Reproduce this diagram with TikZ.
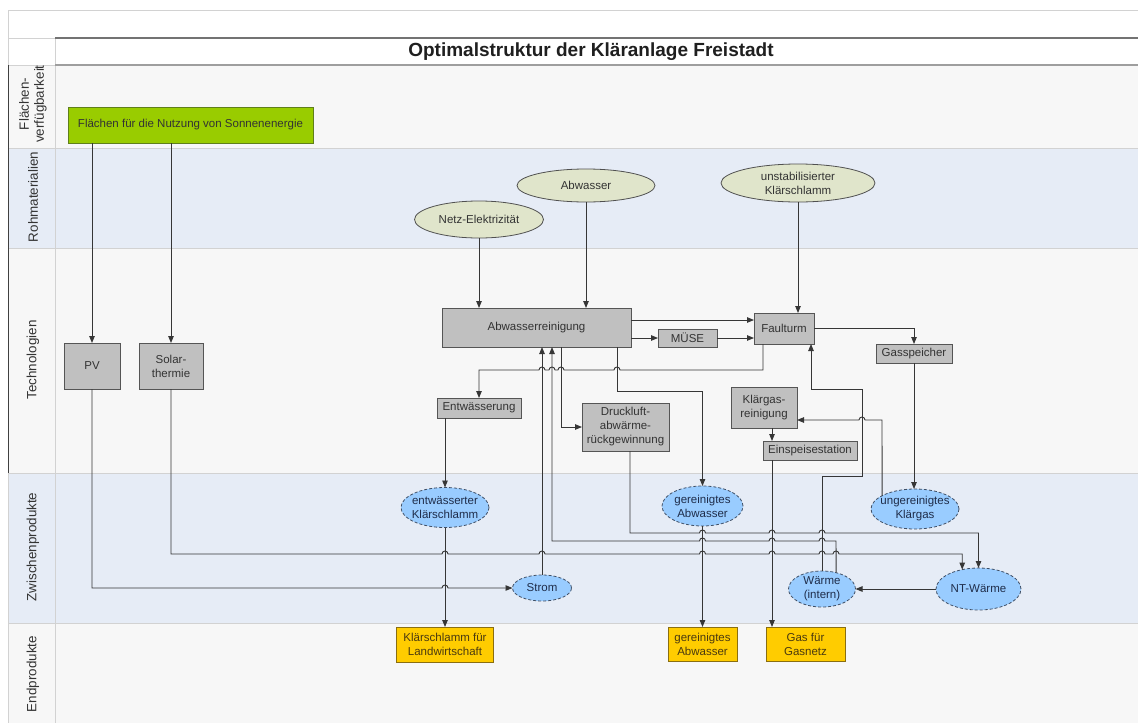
\documentclass[tikz,border=0pt]{standalone}
\usepackage{fontspec}
\setmainfont{Liberation Sans}
\usetikzlibrary{shapes.geometric,arrows.meta}

\definecolor{laneA}{HTML}{F7F7F7}
\definecolor{laneB}{HTML}{E6ECF6}
\definecolor{sepline}{HTML}{D2D2D2}
\definecolor{greenfill}{HTML}{99CC00}
\definecolor{greenline}{HTML}{5F7F1A}
\definecolor{techfill}{HTML}{C0C0C0}
\definecolor{techline}{HTML}{555555}
\definecolor{rawfill}{HTML}{E0E5CB}
\definecolor{rawline}{HTML}{505050}
\definecolor{midfill}{HTML}{99CCFF}
\definecolor{midline}{HTML}{3F4F66}
\definecolor{midtext}{HTML}{1F2D4A}
\definecolor{endfill}{HTML}{FFCC00}
\definecolor{endline}{HTML}{8A6E10}
\definecolor{endtext}{HTML}{4A3A10}
\definecolor{linecol}{HTML}{363636}
\definecolor{txtcol}{HTML}{333333}

\newcommand\nfont{\fontsize{11.5}{14}\selectfont}
% line jumps over a vertical connector at x=#1 on a horizontal run at y=#2
\newcommand\jumpR[2]{-- (#1-3,#2) arc[start angle=180,end angle=0,radius=3pt]}
\newcommand\jumpL[2]{-- (#1+3,#2) arc[start angle=0,end angle=180,radius=3pt]}

\begin{document}
\begin{tikzpicture}[x=1pt,y=-1pt,
  txt/.style={align=center,font=\nfont,text=txtcol,inner sep=0pt},
  lanelabel/.style={rotate=90,align=center,font=\fontsize{13.4}{15}\selectfont,text=txtcol},
  green/.style={rectangle,draw=greenline,fill=greenfill,line width=0.8pt,txt,outer sep=0pt},
  tech/.style={rectangle,draw=techline,fill=techfill,line width=0.8pt,txt,outer sep=0pt},
  raw/.style={ellipse,draw=rawline,fill=rawfill,line width=0.8pt,inner sep=0pt,outer sep=0pt},
  mid/.style={ellipse,draw=midline,fill=midfill,line width=0.8pt,dash pattern=on 3pt off 2pt,inner sep=0pt,outer sep=0pt},
  midtxt/.style={txt,text=midtext},
  prod/.style={rectangle,draw=endline,fill=endfill,line width=0.8pt,txt,text=endtext,outer sep=0pt},
  conn/.style={draw=linecol,line width=0.9pt,-{Triangle[length=7pt,width=5.5pt]}},
  plain/.style={draw=linecol,line width=0.9pt}]

\useasboundingbox (0,0) rectangle (1138,723);
\fill[white] (0,0) rectangle (1138,723);

% swim lanes
\fill[laneA] (8,65) rectangle (1138,148);
\fill[laneB] (8,148) rectangle (1138,248);
\fill[laneA] (8,248) rectangle (1138,473);
\fill[laneB] (8,473) rectangle (1138,623);
\fill[laneA] (8,623) rectangle (1138,723);
\foreach \yy in {148,248,473,623} \draw[sepline,line width=0.8pt] (8,\yy) -- (1138,\yy);
\draw[sepline,line width=0.8pt] (8,10) -- (1138,10);
\draw[sepline,line width=0.8pt] (8,10) -- (8,65);
\draw[sepline,line width=0.8pt] (8,38) -- (55,38);
\draw[sepline,line width=0.8pt] (55,38) -- (55,723);
\draw[sepline,line width=0.8pt] (8,473) -- (8,723);
\draw[black!55,line width=1.1pt] (55,38) -- (1138,38);
\draw[black!38,line width=1.4pt] (55,65) -- (1138,65);
\draw[sepline,line width=0.8pt] (8,65) -- (55,65);
\draw[black!75,line width=1pt] (8,65) -- (8,473);

\node[font=\fontsize{19}{21}\selectfont\bfseries,text=black!88] (title) at (591,51.5) {Optimalstruktur der Kläranlage Freistadt};

\node[lanelabel] (l1) at (33,104) {Flächen-\\verfügbarkeit};
\node[lanelabel] (l2) at (33,197) {Rohmaterialien};
\node[lanelabel] (l3) at (33,360) {Technologien};
\node[lanelabel] (l4) at (33,547) {Zwischenprodukte};
\node[lanelabel] (l5) at (33,674) {Endprodukte};

% nodes
\node[green,minimum width=245,minimum height=36] (flaeche) at (190.5,125) {Flächen für die Nutzung von Sonnenenergie};

\node[raw,minimum width=129,minimum height=37,label={[txt]center:Netz-Elektrizität}] (netz) at (479,219.5) {};
\node[raw,minimum width=138,minimum height=33,label={[txt]center:Abwasser}] (abw) at (586,185.5) {};
\node[raw,minimum width=154,minimum height=38,label={[txt]center:{unstabilisierter\\Klärschlamm}}] (unstab) at (798,183) {};

\node[tech,minimum width=56,minimum height=46] (pv) at (92,366) {PV};
\node[tech,minimum width=64,minimum height=46] (solar) at (171,366) {Solar-\\thermie};
\node[tech,minimum width=189,minimum height=39] (ar) at (536.5,327.5) {Abwasserreinigung};
\node[tech,minimum width=59,minimum height=18] (muese) at (687.5,338) {MÜSE};
\node[tech,minimum width=60,minimum height=31] (faul) at (784,328.5) {Faulturm};
\node[tech,minimum width=76,minimum height=19] (gassp) at (914,353.5) {Gasspeicher};
\node[tech,minimum width=84,minimum height=20] (entw) at (479,408) {Entwässerung};
\node[tech,minimum width=87,minimum height=48] (druck) at (625.5,427) {Druckluft-\\abwärme-\\rückgewinnung};
\node[tech,minimum width=66,minimum height=41] (kgr) at (764,407.5) {Klärgas-\\reinigung};
\node[tech,minimum width=94,minimum height=19] (einsp) at (810,450.5) {Einspeisestation};

\node[mid,minimum width=88,minimum height=40,label={[midtxt]center:{entwässerter\\Klärschlamm}}] (ents) at (445,507.5) {};
\node[mid,minimum width=81,minimum height=40,label={[midtxt]center:{gereinigtes\\Abwasser}}] (gerein) at (702.5,506) {};
\node[mid,minimum width=88,minimum height=40,label={[midtxt]center:{ungereinigtes\\Klärgas}}] (ungas) at (915,509) {};
\node[mid,minimum width=59,minimum height=26,label={[midtxt]center:Strom}] (strom) at (542,588) {};
\node[mid,minimum width=67,minimum height=36,label={[midtxt]center:{Wärme\\(intern)}}] (waerme) at (822,589) {};
\node[mid,minimum width=85,minimum height=42,label={[midtxt]center:NT-Wärme}] (ntw) at (978.5,589) {};

\node[prod,minimum width=97,minimum height=35] (kfl) at (445,644.5) {Klärschlamm für\\Landwirtschaft};
\node[prod,minimum width=69,minimum height=34] (gae) at (702.5,644) {gereinigtes\\Abwasser};
\node[prod,minimum width=79,minimum height=34] (gas) at (805.5,644) {Gas für\\Gasnetz};

% helper points on node borders
\coordinate (r1) at (0,320);
\coordinate (fs) at ([xshift=-21pt]faul.south);
\coordinate (f2) at ([xshift=27pt]faul.south);
\coordinate (a1) at ([xshift=24.5pt]ar.south);
\coordinate (a2) at ([xshift=80.5pt]ar.south);
\coordinate (a3) at ([xshift=15.5pt]ar.south);
\coordinate (d1) at ([xshift=4.5pt]druck.south);
\coordinate (w1) at ([xshift=-34pt]entw.south);
\coordinate (k1) at ([yshift=-12.5pt]kgr.east);
\coordinate (k2) at ([xshift=8pt]kgr.south);
\coordinate (e1) at ([xshift=-38pt]einsp.south);

% connectors
\draw[conn] (flaeche.south -| pv.north) -- (pv.north);
\draw[conn] (flaeche.south -| solar.north) -- (solar.north);
\draw[conn] (netz.south) -- (netz.south |- ar.north);
\draw[conn] (abw.south) -- (abw.south |- ar.north);
\draw[conn] (unstab.south) -- (unstab.south |- faul.north);
\draw[conn] (ar.east |- r1) -- (faul.west |- r1);
\draw[conn] (ar.east |- muese.west) -- (muese.west);
\draw[conn] (muese.east) -- (faul.west |- muese.east);
\draw[conn] (faul.east) -| (gassp.north);
\draw[conn] (gassp.south) -- (gassp.south |- ungas.north);
\draw[conn] (fs) -- (763,370) \jumpL{617}{370} \jumpL{561}{370} \jumpL{552}{370} \jumpL{542}{370} -| (entw.north);
\draw[conn] (a1) |- (druck.west);
\draw[conn] (a2) -- ++(0,44) -| (gerein.north);
\draw[conn] (w1) -- (w1 |- ents.north);
\draw[conn] (ents.south) -- (kfl.north);
\draw[conn] (gerein.south) -- (gae.north);
\draw[conn] (ungas.158.15) -- (882,420) \jumpL{862}{420} -- (k1);
\draw[conn] (k2) -- (k2 |- einsp.north);
\draw[conn] (e1) -- (e1 |- gas.north);
\draw[conn] (pv.south) -- (92,588) \jumpR{445}{588} -- (strom.west);
\draw[conn] (solar.south) -- (171,554) \jumpR{445}{554} \jumpR{542}{554} \jumpR{702.5}{554} \jumpR{772}{554} \jumpR{822}{554} \jumpR{836}{554} -| (ntw.130.45);
\draw[conn] (d1) -- (630,533) \jumpR{702.5}{533} \jumpR{772}{533} \jumpR{822}{533} -| (ntw.north);
\draw[conn] (ntw.west) -- (waerme.east);
\draw[conn] (waerme.49.4) -- (836,541) \jumpL{822}{541} \jumpL{772}{541} \jumpL{702.5}{541} -| (a3);
\draw[conn] (strom.north) -- (strom.north |- ar.south);
\draw[conn] (waerme.north) |- (862,476) -- (862,389) -| (f2);

\end{tikzpicture}
\end{document}
